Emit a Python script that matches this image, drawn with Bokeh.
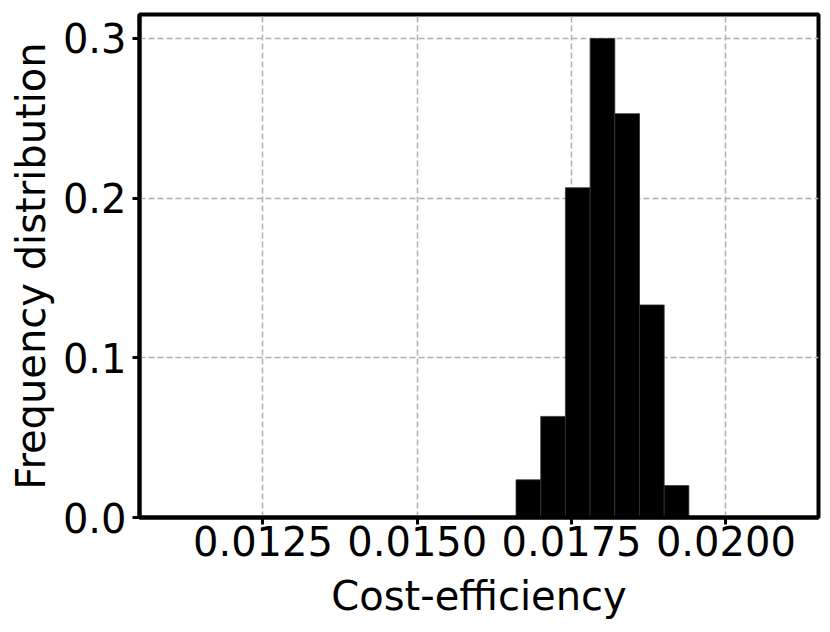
from bokeh.plotting import figure
from bokeh.models import FixedTicker, PrintfTickFormatter, Range1d
from bokeh.embed import file_html
from bokeh.resources import INLINE

# Histogram bins (left/right edges) and frequencies
bin_left = [0.0166, 0.0170, 0.0174, 0.0178, 0.0182, 0.0186, 0.0190]
bin_right = [0.0170, 0.0174, 0.0178, 0.0182, 0.0186, 0.0190, 0.0194]
frequency = [0.0236, 0.0633, 0.2065, 0.3000, 0.2529, 0.1331, 0.0200]

x_ticks = [0.0125, 0.0150, 0.0175, 0.0200]
y_ticks = [0.0, 0.1, 0.2, 0.3]

FONT = "DejaVu Sans"

p = figure(
    width=822, height=628,
    min_border_left=139, min_border_right=4, min_border_top=14, min_border_bottom=111,
    x_range=Range1d(0.0105, 0.0215), y_range=Range1d(0, 0.315),
    output_backend="svg", toolbar_location=None,
)

p.quad(left=bin_left, right=bin_right, bottom=0, top=frequency,
       fill_color="black", line_color="#333333", line_width=0.8)

p.outline_line_color = "black"
p.outline_line_width = 4
p.outline_line_alpha = 1

for ax in (p.xaxis[0], p.yaxis[0]):
    ax.axis_line_color = "black"
    ax.axis_line_width = 4
    ax.major_tick_line_width = 3
    ax.major_tick_line_color = "black"
    ax.major_tick_out = 7
    ax.major_tick_in = 0
    ax.minor_tick_line_color = None
    ax.major_label_text_font = FONT
    ax.major_label_text_font_size = "40px"
    ax.major_label_text_color = "black"
    ax.axis_label_text_font = FONT
    ax.axis_label_text_font_size = "40px"
    ax.axis_label_text_font_style = "normal"
    ax.axis_label_text_color = "black"

p.xaxis.ticker = FixedTicker(ticks=x_ticks)
p.xaxis.formatter = PrintfTickFormatter(format="%.4f")
p.yaxis.ticker = FixedTicker(ticks=y_ticks)
p.yaxis.formatter = PrintfTickFormatter(format="%.1f")
p.xaxis.axis_label = "Cost-efficiency"
p.yaxis.axis_label = "Frequency distribution"
p.xaxis.major_label_standoff = 1
p.yaxis.major_label_standoff = 6
p.xaxis.axis_label_standoff = 14
p.yaxis.axis_label_standoff = 6

for g in (p.xgrid[0], p.ygrid[0]):
    g.grid_line_color = "#b0b0b0"
    g.grid_line_width = 1.5
    g.grid_line_dash = "6 3"
p.xgrid.ticker = FixedTicker(ticks=x_ticks)
p.ygrid.ticker = FixedTicker(ticks=y_ticks)

p.background_fill_color = "white"
p.border_fill_color = "white"

open("out.html", "w").write(file_html(p, INLINE))
